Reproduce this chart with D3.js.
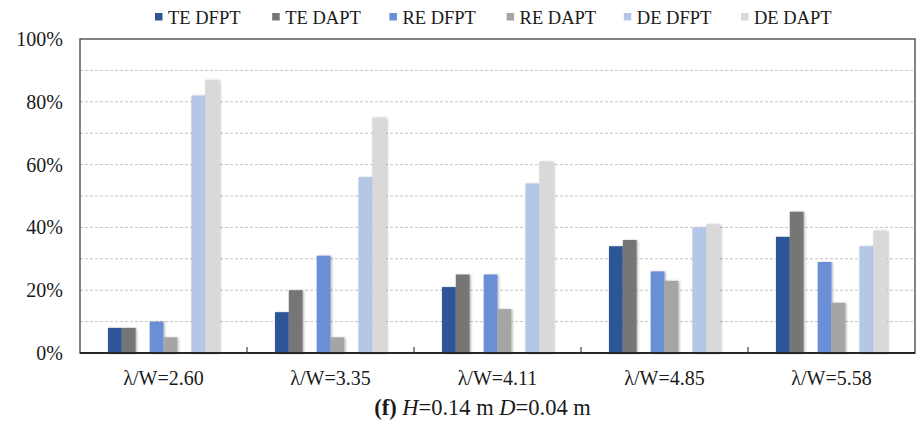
<!DOCTYPE html>
<html><head><meta charset="utf-8">
<script src="https://cdn.jsdelivr.net/npm/d3@7"></script>
<style>body{margin:0;background:#fff}svg{display:block}text{font-family:"Liberation Serif","Times New Roman",serif;fill:#1a1a1a}</style>
</head><body><svg id="c" width="920" height="423"></svg>
<script>
const categories = ["λ/W=2.60","λ/W=3.35","λ/W=4.11","λ/W=4.85","λ/W=5.58"];
const seriesNames = ["TE DFPT","TE DAPT","RE DFPT","RE DAPT","DE DFPT","DE DAPT"];
const teDFPT = [8,13,21,34,37];
const teDAPT = [8,20,25,36,45];
const reDFPT = [10,31,25,26,29];
const reDAPT = [5,5,14,23,16];
const deDFPT = [82,56,54,40,34];
const deDAPT = [87,75,61,41,39];
const seriesColors = ["#2F5597","#767676","#6A8FD4","#A5A5A5","#B4C7E7","#D9D9D9"];
const yTicks = [0,20,40,60,80,100];
const series = [teDFPT,teDAPT,reDFPT,reDAPT,deDFPT,deDAPT];

const svg = d3.select("#c");
const L=80,R=915,T=39,B=353;
const defs = svg.append("defs");
const f = defs.append("filter").attr("id","sh").attr("x","-30%").attr("y","-10%").attr("width","160%").attr("height","120%");
f.append("feDropShadow").attr("dx",1.2).attr("dy",0.5).attr("stdDeviation",1).attr("flood-color","#000").attr("flood-opacity",0.3);

const x0 = d3.scaleBand().domain(categories).range([L,R]).padding(0);
const pairs = d3.scaleBand().domain([0,1,2]).range([0, x0.bandwidth()]).paddingInner(0.337).paddingOuter(0.67);
const y = d3.scaleLinear().domain([0,100]).range([B,T]);

// gridlines
svg.append("g").selectAll("line").data(d3.range(10,100,10)).join("line")
  .attr("x1",L).attr("x2",R).attr("y1",d=>y(d)).attr("y2",d=>y(d))
  .attr("stroke","#c4c4c4").attr("stroke-width",1).attr("stroke-dasharray","3,2");

// bars
const bw = pairs.bandwidth()/2;
series.forEach((vals,si)=>{
  const pi = Math.floor(si/2), side = si%2;
  svg.append("g").attr("filter","url(#sh)").selectAll("rect").data(vals).join("rect")
    .attr("x",(d,i)=>x0(categories[i])+pairs(pi)+side*bw)
    .attr("width",bw)
    .attr("y",d=>y(d)).attr("height",d=>B-y(d))
    .attr("fill",seriesColors[si]);
});

// frame
svg.append("rect").attr("x",L).attr("y",T).attr("width",R-L).attr("height",B-T)
  .attr("fill","none").attr("stroke","#404040").attr("stroke-width",1.3);
svg.append("line").attr("x1",L).attr("x2",R).attr("y1",B).attr("y2",B).attr("stroke","#262626").attr("stroke-width",2);

// x ticks (category boundaries)
svg.append("g").selectAll("line").data(categories.slice(1)).join("line")
  .attr("x1",d=>x0(d)).attr("x2",d=>x0(d)).attr("y1",B).attr("y2",B-6)
  .attr("stroke","#404040").attr("stroke-width",1.2);

// y labels
svg.append("g").selectAll("text").data(yTicks).join("text")
  .attr("x",63).attr("y",d=>y(d)).attr("dy","0.35em").attr("text-anchor","end")
  .attr("font-size",20).text(d=>d+"%");

// x labels
svg.append("g").selectAll("text").data(categories).join("text")
  .attr("x",d=>x0(d)+x0.bandwidth()/2).attr("y",378).attr("dy","0.35em").attr("text-anchor","middle")
  .attr("font-size",20).text(d=>d);

// legend
const lg = svg.append("g");
seriesNames.forEach((n,i)=>{
  const lx = 155 + i*117.2;
  lg.append("rect").attr("x",lx).attr("y",13).attr("width",7.5).attr("height",7.5).attr("fill",seriesColors[i]);
  lg.append("text").attr("x",lx+13).attr("y",17.5).attr("dy","0.35em").attr("font-size",18.5).text(n);
});

// caption
const cap = svg.append("text").attr("x",482.5).attr("y",407).attr("dy","0.35em").attr("text-anchor","middle").attr("font-size",22.5);
cap.append("tspan").attr("font-weight","bold").text("(f)");
cap.append("tspan").text(" ");
cap.append("tspan").attr("font-style","italic").text("H");
cap.append("tspan").text("=0.14 m ");
cap.append("tspan").attr("font-style","italic").text("D");
cap.append("tspan").text("=0.04 m");
</script></body></html>
